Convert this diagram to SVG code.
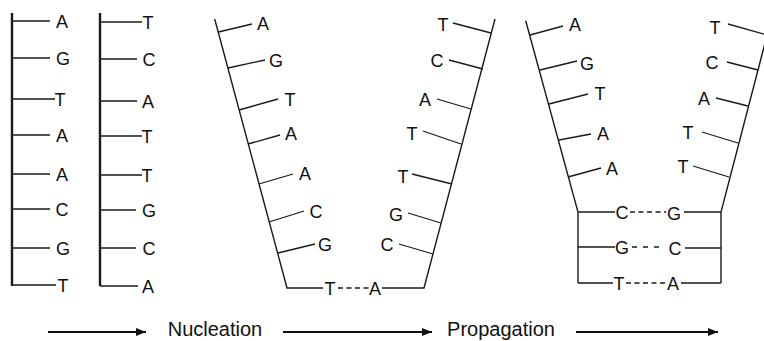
<svg xmlns="http://www.w3.org/2000/svg" width="764" height="341" viewBox="0 0 764 341">
<defs>
<marker id="ah" viewBox="0 0 10 8" refX="10" refY="4" markerWidth="10" markerHeight="8" markerUnits="userSpaceOnUse" orient="auto"><path d="M0,0 L10,4 L0,8 Z" fill="#111"/></marker>
</defs>
<style>
.bb{stroke:#1a1a1a;stroke-width:2.4;fill:none}
.st{stroke:#1a1a1a;stroke-width:1.4;fill:none}
.tk{stroke:#1a1a1a;stroke-width:1.3;fill:none}
.hb{stroke:#1a1a1a;stroke-width:1.3;stroke-dasharray:5,3.5;fill:none}
.b{font-family:"Liberation Sans",Arial,sans-serif;font-size:18px;fill:#111;text-anchor:middle}
.lbl{font-family:"Liberation Sans",Arial,sans-serif;font-size:20px;fill:#111;text-anchor:middle}
.ar{stroke:#111;stroke-width:1.9;fill:none;marker-end:url(#ah)}
</style>
<rect width="764" height="341" fill="#fff"/>

<g id="strand1">
<path class="bb" d="M12,13 V286"/>
<path class="tk" d="M12,21H50 M12,58H50 M12,99H55 M12,135H50 M12,174H50 M12,209H50 M12,248H50 M12,285H56"/>
<text class="b" x="62" y="27.5">A</text>
<text class="b" x="63" y="64.5">G</text>
<text class="b" x="60" y="105.5">T</text>
<text class="b" x="62" y="141.5">A</text>
<text class="b" x="62" y="180.5">A</text>
<text class="b" x="62" y="215.5">C</text>
<text class="b" x="63" y="254.5">G</text>
<text class="b" x="63" y="291.5">T</text>
</g>

<g id="strand2">
<path class="bb" d="M100,13 V286"/>
<path class="tk" d="M100,22H142 M100,59H137 M100,101H137 M100,136H142 M100,175H142 M100,210H136 M100,248H136 M100,286H138"/>
<text class="b" x="148" y="28.5">T</text>
<text class="b" x="149" y="65.5">C</text>
<text class="b" x="148" y="107.5">A</text>
<text class="b" x="147" y="142.5">T</text>
<text class="b" x="147" y="181.5">T</text>
<text class="b" x="149" y="216.5">G</text>
<text class="b" x="149" y="254.5">C</text>
<text class="b" x="148" y="292.5">A</text>
</g>

<g id="nucleus-left">
<path class="st" d="M214.7,19 L287,288 H323"/>
<path class="tk" d="M218.5,32L252,24 M228,68L265,60 M239,110L278,99 M248,144L280,135 M259,184L293,174 M269,222L304,211 M278,253L315,244"/>
<text class="b" x="263" y="29.5">A</text>
<text class="b" x="276" y="66.5">G</text>
<text class="b" x="290" y="105.5">T</text>
<text class="b" x="291" y="139.5">A</text>
<text class="b" x="305" y="179.5">A</text>
<text class="b" x="316" y="217.5">C</text>
<text class="b" x="325" y="250.5">G</text>
<text class="b" x="330" y="294.5">T</text>
</g>

<g id="nucleus-right">
<path class="st" d="M495,19 L424,288 H382"/>
<path class="tk" d="M491,33L453,23 M483,69L449,60 M471,109L437,99 M461,144L423,131 M452,184L412,174 M441,223L408,213 M433,254L399,244"/>
<text class="b" x="443" y="30.5">T</text>
<text class="b" x="437" y="66.5">C</text>
<text class="b" x="425" y="105.5">A</text>
<text class="b" x="412" y="139.5">T</text>
<text class="b" x="403" y="182.5">T</text>
<text class="b" x="396" y="220.5">G</text>
<text class="b" x="387" y="250.5">C</text>
<text class="b" x="375" y="294.5">A</text>
</g>

<g id="prop-left">
<path class="st" d="M525.7,20.7 L578,212 V283"/>
<path class="tk" d="M530,35L563,26 M540,70L577,61 M549,104L588,94 M559,140L591,134 M568,177L601,168 M578,212H615 M578,247H615 M578,283H613"/>
<text class="b" x="575" y="30.5">A</text>
<text class="b" x="587" y="69.5">G</text>
<text class="b" x="600" y="99.5">T</text>
<text class="b" x="603" y="139.5">A</text>
<text class="b" x="612" y="174.5">A</text>
<text class="b" x="622" y="218.5">C</text>
<text class="b" x="622" y="253.5">G</text>
<text class="b" x="619" y="289.5">T</text>
</g>

<g id="prop-right">
<path class="st" d="M771,20 L721,212 V283"/>
<path class="tk" d="M767,35L728,24 M758,70L727,62 M748,106L716,98 M738,143L702,132 M729,177L693,166 M721,212H684 M721,248H685 M721,283H681"/>
<text class="b" x="715" y="33.5">T</text>
<text class="b" x="712" y="68.5">C</text>
<text class="b" x="704" y="104.5">A</text>
<text class="b" x="688" y="138.5">T</text>
<text class="b" x="683" y="172.5">T</text>
<text class="b" x="674" y="219.5">G</text>
<text class="b" x="675" y="254.5">C</text>
<text class="b" x="673" y="289.5">A</text>
</g>

<g id="connectors">
<path class="hb" d="M338,288H369"/>
<path class="hb" d="M630,212H666"/>
<path class="hb" d="M632,247H662" style="stroke-dasharray:5,6"/>
<path class="hb" d="M626,283H666"/>
<path class="ar" d="M48,332H146"/>
<path class="ar" d="M283,332H432"/>
<path class="ar" d="M576,332H718"/>
</g>

<g id="labels">
<text class="lbl" x="215" y="336">Nucleation</text>
<text class="lbl" x="501" y="336">Propagation</text>
</g>
</svg>
